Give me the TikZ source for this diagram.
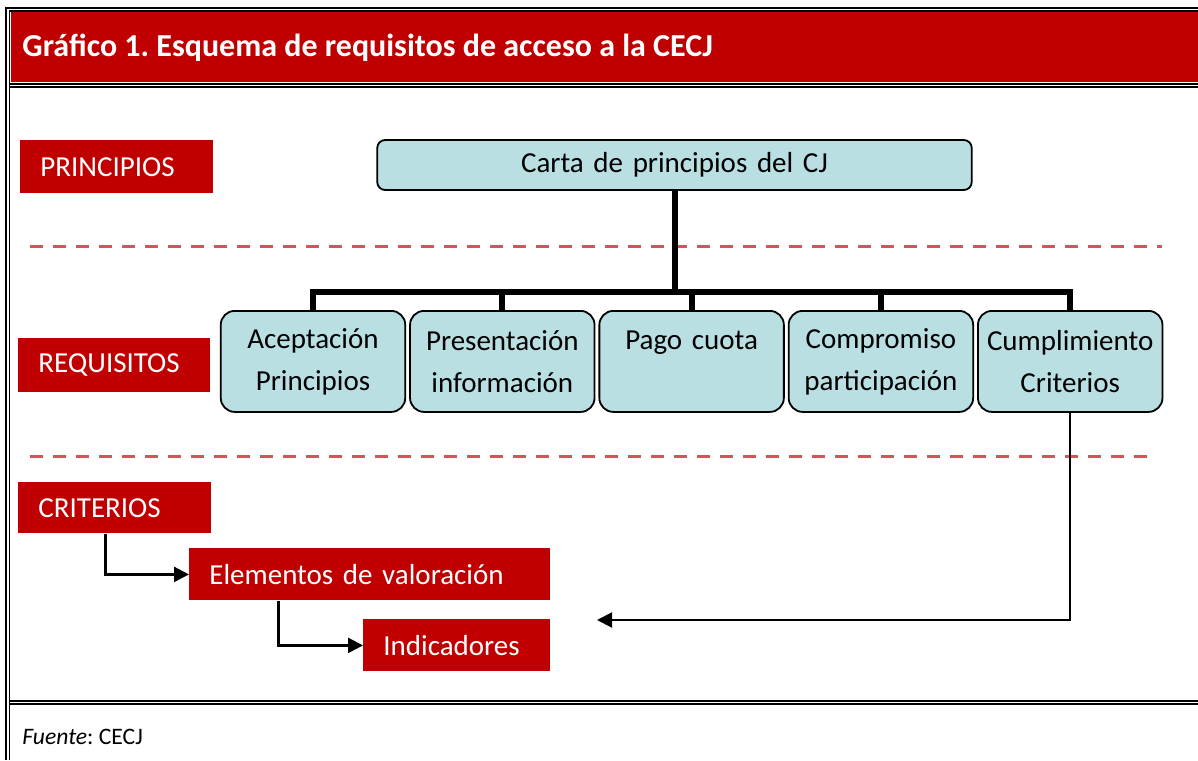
\documentclass[tikz,border=0pt]{standalone}
\usepackage{fontspec}
\setmainfont{Carlito}
\usetikzlibrary{positioning,arrows.meta}
\definecolor{cred}{RGB}{192,0,0}
\definecolor{aqua}{RGB}{185,223,227}
\definecolor{dashred}{RGB}{204,88,88}
\frenchspacing

\tikzset{
    redbox/.style={anchor=north west, fill=cred, text=white, inner xsep=10pt, inner ysep=0pt, text width=#1, align=left, minimum height=26.5pt, font=\fontsize{14.5}{17}\selectfont},
    bluebox/.style={draw, line width=0.9pt, fill=aqua, rounded corners=7pt, text width=88pt, inner xsep=2.125pt, align=center, minimum height=50.5pt, font=\fontsize{14.5}{21}\selectfont},
    trunk/.style={line width=3pt},
    arr/.style={line width=1.2pt, -{Triangle[length=7.5pt,width=7.5pt]}},
    sep/.style={dashred, line width=1.5pt, dash pattern=on 6.5pt off 5pt}
    }

\begin{document}
\begin{tikzpicture}[x=0.5pt, y=-0.5pt]
                \useasboundingbox (0,0) rectangle (1198,760);
                % The Frame
                \draw[line width=1pt] (6,760) -- (6,8) -- (1198,8);
                \draw[line width=0.7pt] (9.5,760) -- (9.5,11) -- (1198,11);
                \fill[cred] (10.5,12) rectangle (1198,82);
                \draw[line width=1pt] (9.5,83.5) -- (1198,83.5);
                \draw[line width=0.7pt] (9.5,86.8) -- (1198,86.8);
                \draw[line width=1pt] (9.5,701) -- (1198,701);
                \draw[line width=0.7pt] (9.5,704) -- (1198,704);
                \node[anchor=west, inner sep=0, text=white, font=\bfseries\fontsize{16}{19}\selectfont] (title) at (22,48) {Gráfico 1. Esquema de requisitos de acceso a la CECJ};
                \node[anchor=west, inner sep=0, font=\fontsize{11.8}{14}\selectfont] (src) at (22,737) {\textit{Fuente}: CECJ};
                % The Levels
                \node[redbox=76.5pt] (prin) at (20,140) {PRINCIPIOS};
                \node[redbox=76pt, minimum height=27pt] (req) at (18,338) {REQUISITOS};
                \node[redbox=76.5pt, minimum height=25.5pt] (crit) at (18,482) {CRITERIOS};
                \node[redbox=160.5pt, minimum height=26pt] (elem) at (189,548) {Elementos de valoración};
                \node[redbox=73.5pt, minimum height=26pt] (ind) at (363,619) {Indicadores};
                \draw[sep] (30,246) -- (1162,246);
                \draw[sep] (30,456) -- (1155,456);
                % The Tree
                \node[bluebox, text width=293pt, minimum height=25pt, rounded corners=4pt, font=\fontsize{14.5}{17}\selectfont] (carta) at (674.5,165) {Carta de principios del CJ};
                \node[bluebox, anchor=north] (a1) at (313,310) {Aceptación\\Principios\\[3pt]};
                \node[bluebox, right=1.5pt of a1] (a2) {Presentación\\información\\[3pt]};
                \node[bluebox, right=1.5pt of a2] (a3) {Pago cuota\\\mbox{}\\[3pt]};
                \node[bluebox, right=1.5pt of a3] (a4) {Compromiso\\participación\\[3pt]};
                \node[bluebox, right=1.5pt of a4] (a5) {Cumplimiento\\Criterios\\[3pt]};
                \coordinate (hub) at (carta.south |- 0,292);
                \draw[trunk] (carta.south) -- (hub);
                \draw[trunk] (a1.north) |- (hub) -| (a5.north);
                \draw[trunk] (a2.north) -- (a2.north |- hub);
                \draw[trunk] (a3.north) -- (a3.north |- hub);
                \draw[trunk] (a4.north) -- (a4.north |- hub);
                % The Arrows
                \draw[arr] ([xshift=-4.75pt]crit.south) |- (elem.west);
                \draw[arr] ([xshift=-45.75pt]elem.south) |- (ind.west);
                \coordinate (back) at (597,620);
                \draw[arr, line width=1pt] (a5.south) |- (back);
            \end{tikzpicture}
\end{document}
